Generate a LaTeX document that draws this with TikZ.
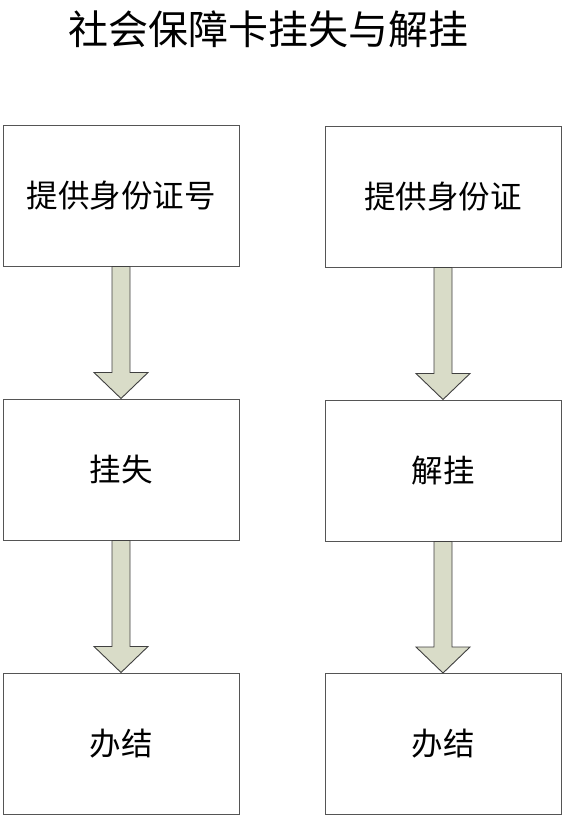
\documentclass[tikz,border=0pt]{standalone}
\usepackage{fontspec}
\newfontfamily\cjk{Noto Sans CJK SC}
\usetikzlibrary{calc}
\definecolor{boxline}{HTML}{555555}
\definecolor{arrowfill}{HTML}{D9DCC8}
\definecolor{arrowline}{HTML}{404040}
\tikzset{
  stepbox/.style={draw=boxline, line width=1pt, fill=white, minimum width=236pt, minimum height=141pt, inner sep=0pt, font=\cjk\fontsize{31.5}{36}\selectfont},
  blockarrow/.style={draw=arrowline, line width=0.9pt, fill=arrowfill, line join=miter}
}
\begin{document}
\begin{tikzpicture}[x=1pt,y=1pt]
\useasboundingbox[fill=white] (0,0) rectangle (563,-816);
\node[font=\cjk\fontsize{40}{48}\selectfont] (title) at (268,-29) {社会保障卡挂失与解挂};
\node[stepbox] (l1) at (121,-195.5) {提供身份证号};
\node[stepbox] (l2) at (121,-469.5) {挂失};
\node[stepbox] (l3) at (121,-743.5) {办结};
\node[stepbox] (r1) at (443,-196.5) {提供身份证};
\node[stepbox] (r2) at (443,-470.5) {解挂};
\node[stepbox] (r3) at (443,-744) {办结};
\foreach \a/\b in {l1/l2,l2/l3,r1/r2,r2/r3}{
  \draw[blockarrow] let \p1=(\a.south), \p2=(\b.north) in
    (\x1-9pt,\y1) -- (\x1-9pt,\y2+26pt) -- (\x1-27pt,\y2+26pt) -- (\x2,\y2) --
    (\x1+27pt,\y2+26pt) -- (\x1+9pt,\y2+26pt) -- (\x1+9pt,\y1) -- cycle;
}
\end{tikzpicture}
\end{document}
